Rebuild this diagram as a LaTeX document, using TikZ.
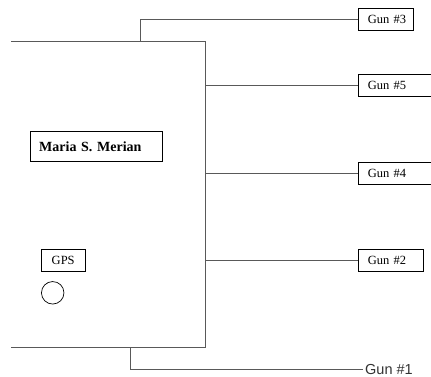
\documentclass[tikz,border=0pt]{standalone}
\usepackage{fontspec}
\setmainfont{Liberation Serif}
\newfontfamily\arialfont{Liberation Sans}

\begin{document}
\begin{tikzpicture}[
  x=1pt, y=-1pt,
  wire/.style={draw=black!65, line width=0.9pt},
  gun/.style={rectangle, draw, line width=0.8pt, minimum height=22pt,
              inner xsep=9.5pt, inner ysep=0pt, text width=#1,
              align=left, anchor=west, font=\fontsize{12.5}{14}\selectfont},
  label/.style={rectangle, draw, line width=0.8pt, align=center}
]
  \useasboundingbox (0,0) rectangle (431,376);

  % hull of the ship, open towards the left
  \draw[wire] (11,41) -- (205,41) -- (205,347.5) -- (11,347.5);

  \node[label, minimum width=132pt, minimum height=30pt, text width=115pt,
        align=left, inner xsep=8.5pt, font=\fontsize{14}{16}\selectfont\bfseries]
        (ship) at (96.7,146.7) {Maria S. Merian};
  \node[label, minimum width=44pt, minimum height=22pt, inner sep=0pt,
        font=\fontsize{12.5}{14}\selectfont] (gps) at (63.2,260.2) {GPS};
  \node[circle, draw, line width=0.7pt, minimum size=22.5pt, inner sep=0pt]
        (antenna) at (52.7,292.8) {};

  % guns
  \node[gun=36pt]   (gun3) at (358,19.5) {Gun~\#3};
  \node[gun=53.5pt] (gun5) at (358,85)   {Gun~\#5};
  \node[gun=53.5pt] (gun4) at (358,173)  {Gun~\#4};
  \node[gun=46pt]   (gun2) at (358,260)  {Gun~\#2};
  \node[anchor=west, inner sep=2pt, text=black!80,
        font=\arialfont\fontsize{14.5}{16}\selectfont] (gun1) at (363,369.5) {Gun \#1};

  \coordinate (mast)  at (140,41);
  \coordinate (stern) at (130,347.5);
  \coordinate (tab5)  at (205,85);
  \coordinate (tab4)  at (205,173);
  \coordinate (tab2)  at (205,260);

  \draw[wire] (mast) |- (gun3.west);
  \draw[wire] (tab5) -- (gun5.west);
  \draw[wire] (tab4) -- (gun4.west);
  \draw[wire] (tab2) -- (gun2.west);
  \draw[wire] (stern) |- (gun1.west);
\end{tikzpicture}
\end{document}
